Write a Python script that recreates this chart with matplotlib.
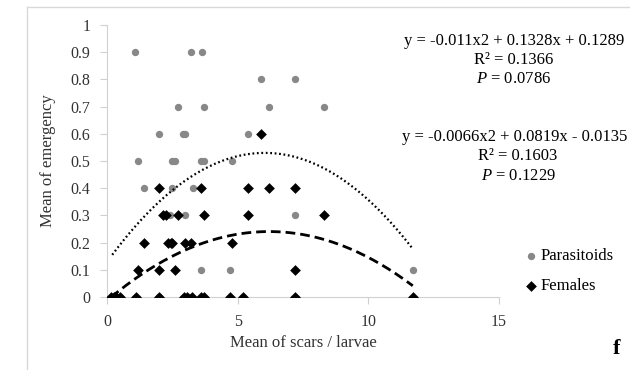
import matplotlib
matplotlib.use("Agg")
import matplotlib.pyplot as plt
from matplotlib.lines import Line2D
import numpy as np

plt.rcParams['font.family'] = ['Liberation Serif', 'DejaVu Serif']
plt.rcParams['mathtext.fontset'] = 'custom'
plt.rcParams['mathtext.rm'] = 'Liberation Serif'
plt.rcParams['mathtext.it'] = 'Liberation Serif:italic'

# parasitoids (grey dots)
para_x = [1.08, 3.2, 3.65,
          5.9, 7.2,
          2.7, 3.7, 6.2, 8.3,
          2.0, 2.9, 3.0, 5.4,
          1.2, 2.5, 2.6, 3.6, 3.7, 4.8,
          1.4, 2.5, 3.3,
          2.4, 3.0, 7.2,
          3.6, 4.7, 11.7,
          0.2, 0.3, 0.5, 2.0, 3.1, 5.2]
para_y = [0.9, 0.9, 0.9,
          0.8, 0.8,
          0.7, 0.7, 0.7, 0.7,
          0.6, 0.6, 0.6, 0.6,
          0.5, 0.5, 0.5, 0.5, 0.5, 0.5,
          0.4, 0.4, 0.4,
          0.3, 0.3, 0.3,
          0.1, 0.1, 0.1,
          0, 0, 0, 0, 0, 0]

# females (black diamonds)
fem_x = [5.9,
         2.0, 3.6, 5.4, 6.2, 7.2,
         2.15, 2.25, 2.7, 3.7, 5.4, 8.3,
         1.4, 2.35, 2.45, 2.5, 3.0, 3.2, 4.8,
         1.2, 2.0, 2.6, 7.2,
         0.15, 0.25, 0.35, 0.5, 1.1, 2.0, 2.95, 3.05, 3.25, 3.6, 3.7, 4.7, 5.2, 7.2, 11.7]
fem_y = [0.6,
         0.4, 0.4, 0.4, 0.4, 0.4,
         0.3, 0.3, 0.3, 0.3, 0.3, 0.3,
         0.2, 0.2, 0.2, 0.2, 0.2, 0.2, 0.2,
         0.1, 0.1, 0.1, 0.1,
         0, 0, 0, 0, 0, 0, 0, 0, 0, 0, 0, 0, 0, 0, 0]

# polynomial trendline coefficients (from the chart's equations)
para_coef = [-0.011, 0.1328, 0.1289]
fem_coef = [-0.0066, 0.0819, -0.0135]

para_lines = ["y = -0.011x2 + 0.1328x + 0.1289", "R\u00b2 = 0.1366", r"$P$ = 0.0786"]
fem_lines = ["y = -0.0066x2 + 0.0819x - 0.0135", "R\u00b2 = 0.1603", r"$P$ = 0.1229"]

W, H = 630, 370
fig = plt.figure(figsize=(6.3, 3.7), dpi=100)
ax = fig.add_axes([107 / W, 1 - 297 / H, 392 / W, 272 / H])

ax.scatter(para_x, para_y, s=28, color='#888888', marker='o', zorder=3, label='Parasitoids', linewidths=0)
ax.scatter(fem_x, fem_y, s=30, color='black', marker='D', zorder=4, label='Females', linewidths=0)

xs = np.linspace(min(para_x), max(para_x), 200)
ax.plot(xs, np.polyval(para_coef, xs), color='black', lw=1.6, linestyle=(0, (0.8, 1.2)), zorder=5)
xs2 = np.linspace(min(fem_x), max(fem_x), 200)
ax.plot(xs2, np.polyval(fem_coef, xs2), color='black', lw=2.0, linestyle=(0, (3.5, 1.8)), zorder=5)

ax.set_xlim(0, 15)
ax.set_ylim(0, 1)
ax.set_xticks([0, 5, 10, 15])
ax.set_yticks(np.arange(0, 1.01, 0.1))
ax.set_yticklabels(['0', '0.1', '0.2', '0.3', '0.4', '0.5', '0.6', '0.7', '0.8', '0.9', '1'])
for s in ['top', 'right']:
    ax.spines[s].set_visible(False)
for s in ['left', 'bottom']:
    ax.spines[s].set_color('#d0d0d0')
ax.tick_params(colors='#d0d0d0', labelcolor='#333333', labelsize=11.5, length=5, width=0.8, pad=7)

ax.set_xlabel('Mean of scars / larvae', fontsize=12, color='#333333')
ax.set_ylabel('Mean of emergency', fontsize=12, color='#333333')
ax.xaxis.set_label_coords(0.5, -0.14)
ax.yaxis.set_label_coords(-0.13, 0.5)

for i, t in enumerate(para_lines):
    fig.text(514 / W, 1 - (41 + 19 * i) / H, t, ha='center', va='center', fontsize=12)
fem_cx = [515, 518, 518]
for i, t in enumerate(fem_lines):
    fig.text(fem_cx[i] / W, 1 - (137 + 19.5 * i) / H, t, ha='center', va='center', fontsize=12)

ax.legend(loc='upper left', bbox_to_anchor=(527 / W, 1 - 248 / H), bbox_transform=fig.transFigure,
          frameon=False, fontsize=12, handlelength=0.5, handletextpad=0.3, labelspacing=0.86,
          borderpad=0, borderaxespad=0, scatterpoints=1)

fig.text(617 / W, 1 - 349 / H, 'f', ha='center', va='center', fontsize=16, fontweight='bold')

fig.add_artist(Line2D([27 / W, 27 / W], [0, 1 - 7 / H], transform=fig.transFigure, color='#d9d9d9', lw=1))
fig.add_artist(Line2D([27 / W, 1], [1 - 7 / H, 1 - 7 / H], transform=fig.transFigure, color='#d9d9d9', lw=1))

fig.savefig('out.png', dpi=100)
